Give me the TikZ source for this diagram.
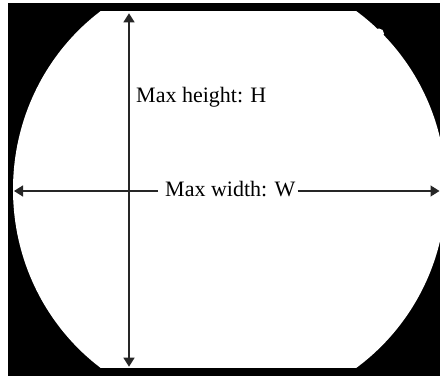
\documentclass[tikz,border=0pt]{standalone}
\usepackage{fontspec}
\setmainfont{Liberation Serif}
\usepackage{tikz}
\usetikzlibrary{arrows.meta,calc}

\begin{document}
\begin{tikzpicture}[x=1pt,y=1pt,
  wafer/.style={fill=white},
  dim/.style={{Triangle[length=9pt,width=11pt]}-{Triangle[length=9pt,width=11pt]},line width=1.3pt,black!85},
  half/.style={-{Triangle[length=9pt,width=11pt]},line width=1.3pt,black!85},
  lbl/.style={font=\fontsize{22}{26}\selectfont,inner sep=0pt}]
\useasboundingbox (0,0) rectangle (440,378);
\fill[black] (8,2) rectangle (440,375);
% wafer with its two flats
\begin{scope}
\clip (0,10) rectangle (440,366.5);
\fill[wafer] (227,409.5) arc[start angle=90,end angle=270,x radius=214pt,y radius=221pt]
  -- (227,-32.5) arc[start angle=-90,end angle=90,x radius=219pt,y radius=221pt] -- cycle;
\end{scope}
\fill[wafer] (379,344.5) circle (5pt);
\coordinate (htop) at (129,364.7);
\coordinate (hbot) at (129,11.3);
\coordinate (wleft) at (14,187);
\coordinate (wright) at (439.5,187);
\draw[dim] (hbot) -- (htop);
\node[lbl,anchor=base west] (hlab) at (136,275) {Max height: H};
\node[lbl,anchor=base west] (wlab) at (165,181) {Max width: W};
\draw[half] ($(wlab.west|-wleft)+(-7,0)$) -- (wleft);
\draw[half] ($(wlab.east|-wright)+(2,0)$) -- (wright);
\end{tikzpicture}
\end{document}
